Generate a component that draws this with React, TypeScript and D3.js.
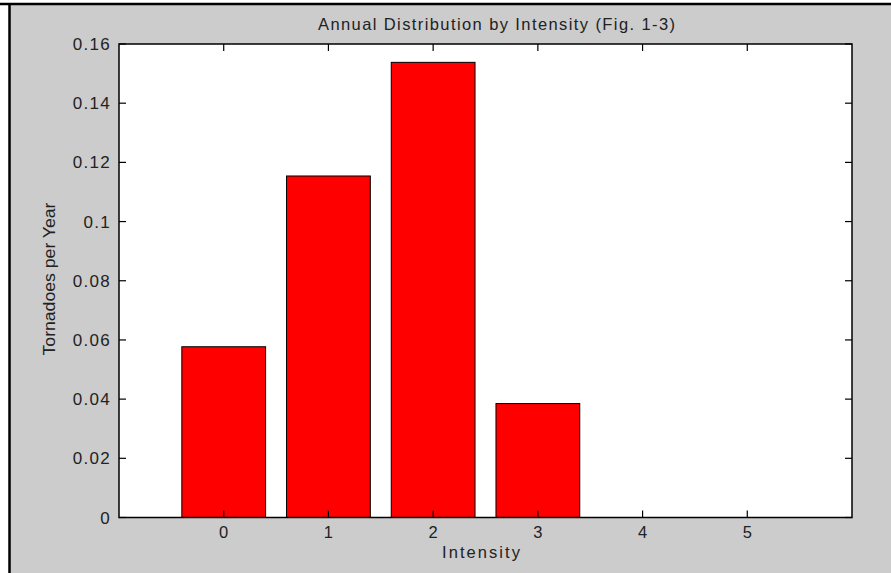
import React from "react";
import * as d3 from "d3";

const categories = [0, 1, 2, 3, 4, 5];
const tornadoesPerYear = [0.0577, 0.1154, 0.1538, 0.0385, 0, 0];
const yTicks = [0, 0.02, 0.04, 0.06, 0.08, 0.1, 0.12, 0.14, 0.16];
const yTickLabels = ["0", "0.02", "0.04", "0.06", "0.08", "0.1", "0.12", "0.14", "0.16"];
const titleText = "Annual Distribution by Intensity (Fig. 1-3)";
const xLabelText = "Intensity";
const yLabelText = "Tornadoes per Year";

const W = 891;
const H = 573;
const plot = { left: 119, right: 852, top: 44, bottom: 517.5 };
const FONT = "'Liberation Sans', Arial, sans-serif";
const TICK = 7;

export default function App() {
  const x = d3.scaleLinear().domain([-1, 6]).range([plot.left, plot.right]);
  const y = d3.scaleLinear().domain([0, 0.16]).range([plot.bottom, plot.top]);
  const barW = x(0.8) - x(0);

  return (
    <svg
      width={W}
      height={H}
      style={{ position: "absolute", left: 0, top: 0, display: "block" }}
    >
      <rect x={0} y={0} width={W} height={H} fill="#ffffff" />
      <rect x={9} y={4} width={W - 9} height={H - 4} fill="#cccccc" />
      <line x1={0} x2={W} y1={4} y2={4} stroke="#000" strokeWidth={2.5} />
      <line x1={9.5} x2={9.5} y1={4} y2={H} stroke="#000" strokeWidth={2.5} />

      <rect
        x={plot.left}
        y={plot.top}
        width={plot.right - plot.left}
        height={plot.bottom - plot.top}
        fill="#ffffff"
      />

      {categories.map((c, i) => {
        const v = tornadoesPerYear[i];
        if (v <= 0) return null;
        return (
          <rect
            key={c}
            x={x(c) - barW / 2}
            y={y(v)}
            width={barW}
            height={y(0) - y(v)}
            fill="#ff0000"
            stroke="#000"
            strokeWidth={1}
          />
        );
      })}

      {yTicks.map((t, i) => (
        <g key={"y" + i}>
          <line x1={plot.left} x2={plot.left + TICK} y1={y(t)} y2={y(t)} stroke="#000" strokeWidth={1.2} />
          <line x1={plot.right} x2={plot.right - TICK} y1={y(t)} y2={y(t)} stroke="#000" strokeWidth={1.2} />
          <text
            x={111}
            y={y(t) + 6}
            textAnchor="end"
            fontFamily={FONT}
            fontSize={17}
            letterSpacing={1.3}
            fill="#222"
          >
            {yTickLabels[i]}
          </text>
        </g>
      ))}

      {categories.map((c) => (
        <g key={"x" + c}>
          <line x1={x(c)} x2={x(c)} y1={plot.bottom} y2={plot.bottom - TICK} stroke="#000" strokeWidth={1.2} />
          <line x1={x(c)} x2={x(c)} y1={plot.top} y2={plot.top + TICK} stroke="#000" strokeWidth={1.2} />
          <text
            x={x(c)}
            y={538}
            textAnchor="middle"
            fontFamily={FONT}
            fontSize={16.5}
            fill="#222"
          >
            {String(c)}
          </text>
        </g>
      ))}

      <rect
        x={plot.left}
        y={plot.top}
        width={plot.right - plot.left}
        height={plot.bottom - plot.top}
        fill="none"
        stroke="#000"
        strokeWidth={1.5}
      />

      <text
        x={(318 + 675) / 2}
        y={30}
        textAnchor="middle"
        fontFamily={FONT}
        fontSize={16.5}
        textLength={357}
        lengthAdjust="spacing"
        fill="#222"
      >
        {titleText}
      </text>

      <text
        x={481}
        y={558}
        textAnchor="middle"
        fontFamily={FONT}
        fontSize={16.5}
        textLength={78}
        lengthAdjust="spacing"
        fill="#222"
      >
        {xLabelText}
      </text>

      <text
        transform="translate(55,279) rotate(-90)"
        textAnchor="middle"
        fontFamily={FONT}
        fontSize={16}
        textLength={153}
        lengthAdjust="spacingAndGlyphs"
        fill="#222"
      >
        {yLabelText}
      </text>
    </svg>
  );
}
